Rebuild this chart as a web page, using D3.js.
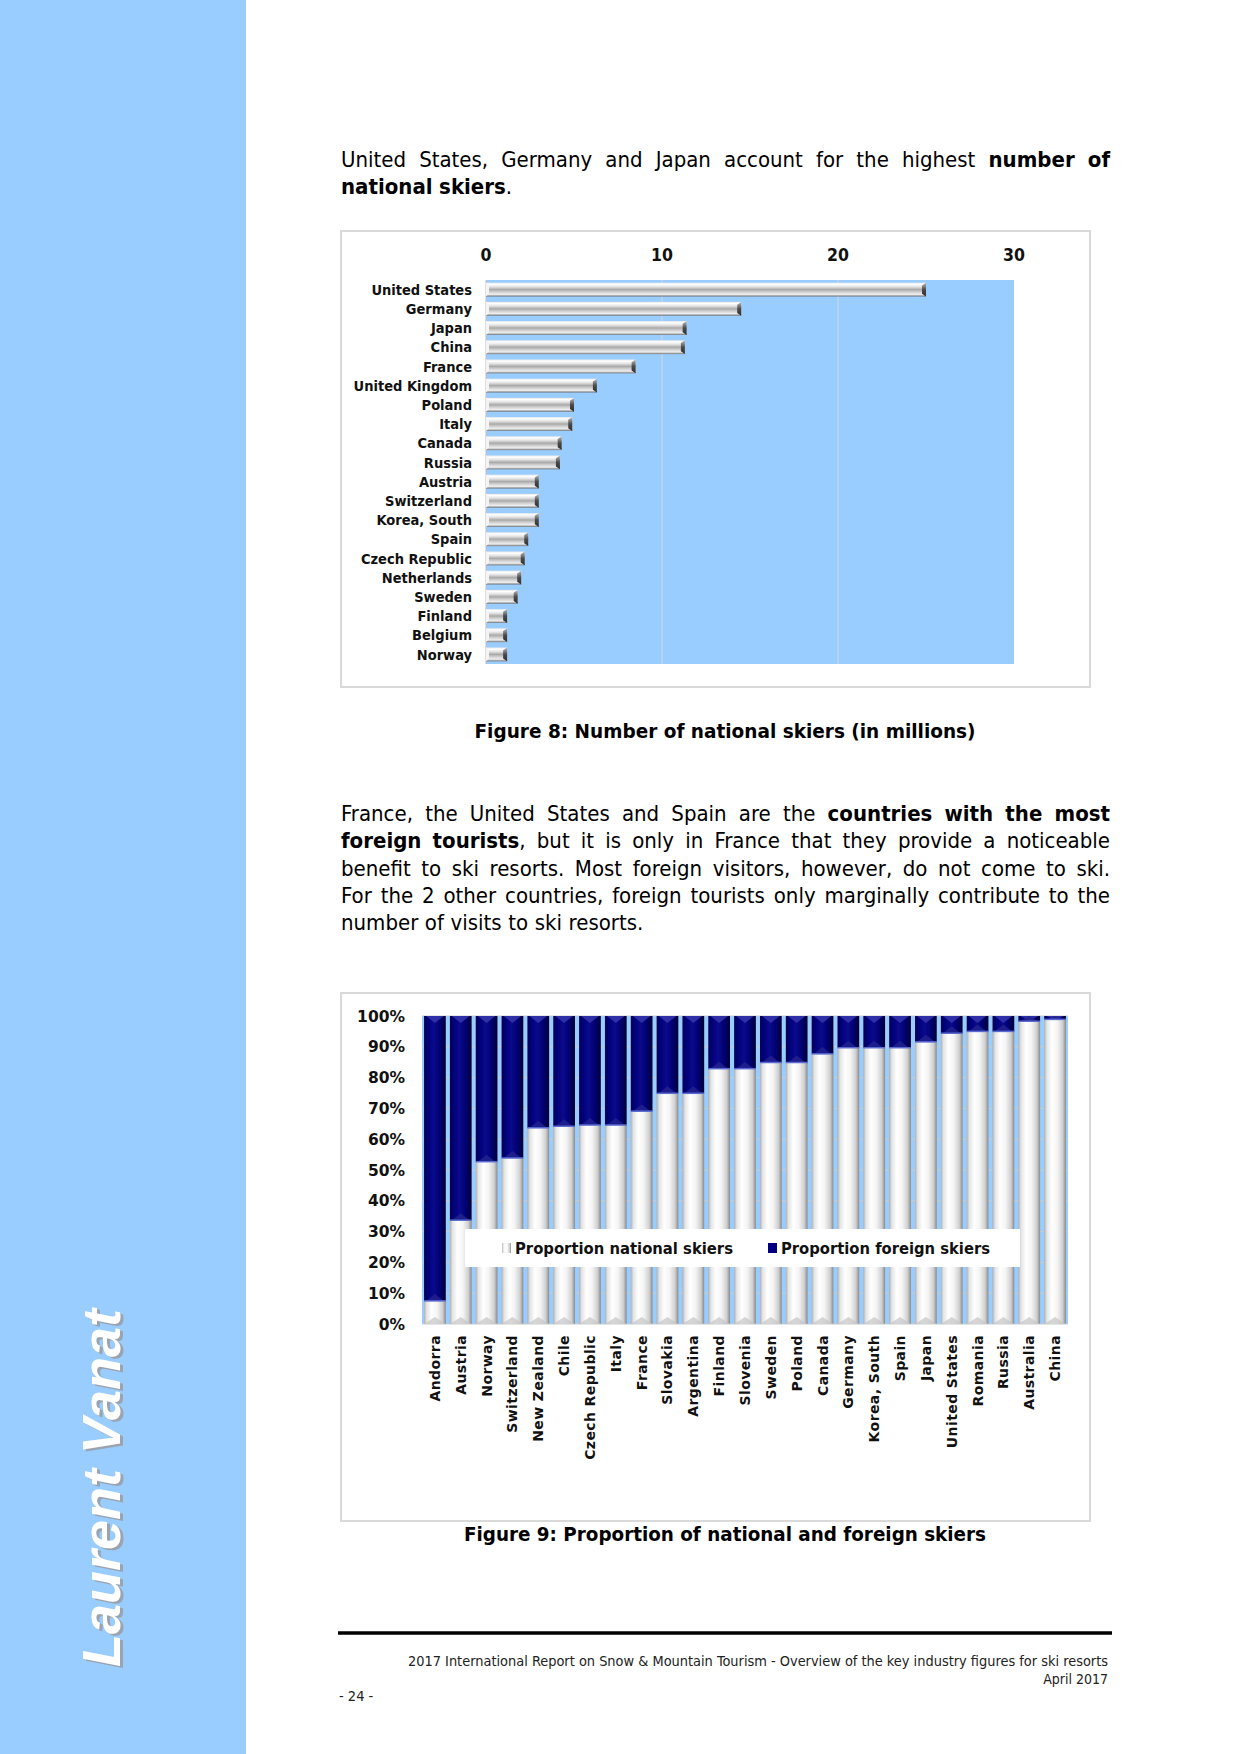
<!DOCTYPE html>
<html><head><meta charset="utf-8">
<script src="https://cdn.jsdelivr.net/npm/d3@7"></script>
<style>html,body{margin:0;padding:0;background:#fff}svg{display:block}</style>
</head><body>
<svg id="page" width="1240" height="1754"></svg>
<script>
// ---------- DATA ----------
const skierCountries = ["United States","Germany","Japan","China","France","United Kingdom","Poland","Italy","Canada","Russia","Austria","Switzerland","Korea, South","Spain","Czech Republic","Netherlands","Sweden","Finland","Belgium","Norway"];
const skierMillions = [25.0,14.5,11.4,11.3,8.5,6.3,5.0,4.9,4.3,4.2,3.0,3.0,3.0,2.4,2.2,2.0,1.8,1.2,1.2,1.2];
const skierTicks = [0,10,20,30];

const shareCountries = ["Andorra","Austria","Norway","Switzerland","New Zealand","Chile","Czech Republic","Italy","France","Slovakia","Argentina","Finland","Slovenia","Sweden","Poland","Canada","Germany","Korea, South","Spain","Japan","United States","Romania","Russia","Australia","China"];
const nationalShare = [7.5,33.7,52.7,53.9,63.7,64.2,64.6,64.6,69.1,74.9,74.9,82.9,82.9,84.9,84.9,87.7,89.7,89.7,89.7,91.6,94.4,95.0,95.0,98.3,98.9];
const foreignShare  = [92.5,66.3,47.3,46.1,36.3,35.8,35.4,35.4,30.9,25.1,25.1,17.1,17.1,15.1,15.1,12.3,10.3,10.3,10.3,8.4,5.6,5.0,5.0,1.7,1.1];
const shareTicks = [0,10,20,30,40,50,60,70,80,90,100];
const legendLabels = ["Proportion national skiers","Proportion foreign skiers"];

const para1 = [
  [["United States, Germany and Japan account for the highest ",0],["number of",1]],
  [["national skiers",1],[".",0]]
];
const para2 = [
  [["France, the United States and Spain are the ",0],["countries with the most",1]],
  [["foreign tourists",1],[", but it is only in France that they provide a noticeable",0]],
  [["benefit to ski resorts. Most foreign visitors, however, do not come to ski.",0]],
  [["For the 2 other countries, foreign tourists only marginally contribute to the",0]],
  [["number of visits to ski resorts.",0]]
];
const caption1 = "Figure 8: Number of national skiers (in millions)";
const caption2 = "Figure 9: Proportion of national and foreign skiers";
const footer1 = "2017 International Report on Snow & Mountain Tourism - Overview of the key industry figures for ski resorts";
const footer2 = "April 2017";
const pageNum = "- 24 -";
const author = "Laurent Vanat";

// ---------- PAGE ----------
const svg = d3.select("#page");
const defs = svg.append("defs");
const FONT = "'DejaVu Sans Condensed','DejaVu Sans',sans-serif";

svg.append("rect").attr("width",1240).attr("height",1754).attr("fill","#fff");
svg.append("rect").attr("x",0).attr("y",0).attr("width",246).attr("height",1754).attr("fill","#99ccff");

// author, rotated
[[3,2,"#9aa4b0"],[0,0,"#ffffff"]].forEach(([dx,dy,c])=>{
  svg.append("text")
    .attr("transform",`translate(${120+dx},${1667+dy}) rotate(-90)`)
    .attr("font-family","'Liberation Sans',Arial,sans-serif")
    .attr("font-weight","bold").attr("font-style","italic")
    .attr("font-size",54).attr("fill",c).text(author);
});

// justified text helper
function drawLines(lines, x0, width, y0, lh, size){
  lines.forEach((line,li)=>{
    const y = y0 + li*lh;
    const words=[]; let cur=[];
    line.forEach(([t,b])=>{
      t.split(" ").forEach((part,i)=>{
        if(i>0){ if(cur.length) words.push(cur); cur=[]; }
        if(part.length) cur.push([part,b]);
      });
    });
    if(cur.length) words.push(cur);
    const els = words.map(w=>{
      const te = svg.append("text").attr("y",y).attr("font-family",FONT).attr("font-size",size).attr("fill","#000");
      w.forEach(([p,b])=>te.append("tspan").attr("font-weight",b?"bold":"normal").text(p));
      return te;
    });
    const widths = els.map(e=>e.node().getComputedTextLength());
    const total = d3.sum(widths);
    const last = li===lines.length-1;
    const gap = last ? size*0.3 : (width-total)/(words.length-1);
    let x=x0;
    els.forEach((e,i)=>{ e.attr("x",x); x+=widths[i]+gap; });
  });
}
drawLines(para1, 341, 769, 167, 26.5, 22);
drawLines(para2, 341, 769, 821, 27.3, 22);

// ---------- CHART 1 ----------
svg.append("rect").attr("x",341).attr("y",231).attr("width",749).attr("height",456)
  .attr("fill","#fff").attr("stroke","#d9d9d9").attr("stroke-width",2);

const x1 = d3.scaleLinear().domain([0,30]).range([486,1014]);
const y1 = d3.scaleBand().domain(skierCountries).range([280,664]).paddingInner(0.28).paddingOuter(0.14);

svg.append("rect").attr("x",x1(0)).attr("y",280).attr("width",x1(30)-x1(0)).attr("height",384).attr("fill","#99ccff");
svg.append("g").selectAll("line").data(skierTicks.slice(1,3)).join("line")
  .attr("x1",d=>x1(d)).attr("x2",d=>x1(d)).attr("y1",280).attr("y2",664)
  .attr("stroke","#d0d8e0").attr("stroke-width",1);
svg.append("line").attr("x1",x1(0)).attr("x2",x1(0)).attr("y1",280).attr("y2",664).attr("stroke","#bfbfbf");

const gH = defs.append("linearGradient").attr("id","silverH").attr("x1",0).attr("y1",0).attr("x2",0).attr("y2",1);
[[0,"#e8e8e8"],[0.12,"#ffffff"],[0.3,"#e2e2e2"],[0.5,"#a9a9a9"],[0.68,"#d2d2d2"],[0.85,"#efefef"],[1,"#6f6f6f"]]
  .forEach(([o,c])=>gH.append("stop").attr("offset",o).attr("stop-color",c));
const gCap = defs.append("linearGradient").attr("id","capH").attr("x1",0).attr("y1",0).attr("x2",0).attr("y2",1);
[[0,"#bdbdbd"],[0.5,"#4a4a4a"],[1,"#2e2e2e"]].forEach(([o,c])=>gCap.append("stop").attr("offset",o).attr("stop-color",c));

const bars1 = svg.append("g");
bars1.selectAll("rect.bar").data(skierCountries).join("rect").attr("class","bar")
  .attr("x",x1(0)).attr("y",d=>y1(d)).attr("height",y1.bandwidth())
  .attr("width",(d,i)=>x1(skierMillions[i])-x1(0)).attr("fill","url(#silverH)");
bars1.selectAll("path.cap").data(skierCountries).join("path").attr("class","cap")
  .attr("d",(d,i)=>{const xe=x1(skierMillions[i]), yt=y1(d), h=y1.bandwidth();
    return `M${xe-4},${yt+h*0.2} L${xe},${yt} L${xe},${yt+h} L${xe-4},${yt+h*0.8} Z`;})
  .attr("fill","url(#capH)");
bars1.selectAll("path.lcap").data(skierCountries).join("path").attr("class","lcap")
  .attr("d",(d,i)=>{const xs=x1(0), yt=y1(d), h=y1.bandwidth();
    return `M${xs},${yt} L${xs+3},${yt+h*0.2} L${xs+3},${yt+h*0.8} L${xs},${yt+h} Z`;})
  .attr("fill","#f4f4f4");

svg.append("g").selectAll("text").data(skierCountries).join("text")
  .attr("x",472).attr("y",d=>y1(d)+y1.bandwidth()/2).attr("dy","0.36em")
  .attr("text-anchor","end").attr("font-family",FONT).attr("font-weight","bold")
  .attr("font-size",14.5).attr("fill","#111").text(d=>d);
svg.append("g").selectAll("text").data(skierTicks).join("text")
  .attr("x",d=>x1(d)).attr("y",261).attr("text-anchor","middle")
  .attr("font-family",FONT).attr("font-weight","bold").attr("font-size",17.5).attr("fill","#111").text(d=>d);

svg.append("text").attr("x",725).attr("y",738).attr("text-anchor","middle")
  .attr("font-family",FONT).attr("font-weight","bold").attr("font-size",19.5)
  .attr("textLength",501).attr("lengthAdjust","spacingAndGlyphs").text(caption1);

// ---------- CHART 2 ----------
svg.append("rect").attr("x",341).attr("y",993).attr("width",749).attr("height",528)
  .attr("fill","#fff").attr("stroke","#d9d9d9").attr("stroke-width",2);

const x2 = d3.scaleBand().domain(shareCountries).range([422,1068]).paddingInner(0.16).paddingOuter(0.08);
const y2 = d3.scaleLinear().domain([0,100]).range([1324,1016]);

svg.append("rect").attr("x",422).attr("y",y2(100)).attr("width",646).attr("height",y2(0)-y2(100)).attr("fill","#99ccff");
svg.append("g").selectAll("line").data(shareTicks).join("line")
  .attr("x1",422).attr("x2",1068).attr("y1",d=>y2(d)).attr("y2",d=>y2(d))
  .attr("stroke","#c8ccd0").attr("stroke-width",1);

const gN = defs.append("linearGradient").attr("id","silverV").attr("x1",0).attr("y1",0).attr("x2",1).attr("y2",0);
[[0,"#b0b0b0"],[0.12,"#e4e4e4"],[0.35,"#ffffff"],[0.6,"#f4f4f4"],[0.85,"#cfcfcf"],[1,"#8a8a8a"]]
  .forEach(([o,c])=>gN.append("stop").attr("offset",o).attr("stop-color",c));
const gF = defs.append("linearGradient").attr("id","navyV").attr("x1",0).attr("y1",0).attr("x2",1).attr("y2",0);
[[0,"#00004a"],[0.15,"#000078"],[0.45,"#0a0a8c"],[0.75,"#000070"],[1,"#000030"]]
  .forEach(([o,c])=>gF.append("stop").attr("offset",o).attr("stop-color",c));

const bw = x2.bandwidth();
const b2 = svg.append("g");
b2.selectAll("rect.nat").data(shareCountries).join("rect").attr("class","nat")
  .attr("x",d=>x2(d)).attr("width",bw)
  .attr("y",(d,i)=>y2(nationalShare[i])).attr("height",(d,i)=>y2(0)-y2(nationalShare[i]))
  .attr("fill","url(#silverV)");
b2.selectAll("path.natb").data(shareCountries).join("path").attr("class","natb")
  .attr("d",d=>{const x=x2(d), yb=y2(0); return `M${x},${yb} L${x+bw/2},${yb-7} L${x+bw},${yb} Z`;})
  .attr("fill","#c4c4c4").attr("opacity",0.7);
b2.selectAll("rect.for").data(shareCountries).join("rect").attr("class","for")
  .attr("x",d=>x2(d)).attr("width",bw)
  .attr("y",(d,i)=>y2(nationalShare[i]+foreignShare[i])).attr("height",(d,i)=>y2(nationalShare[i])-y2(nationalShare[i]+foreignShare[i]))
  .attr("fill","url(#navyV)");
b2.selectAll("path.fort").data(shareCountries).join("path").attr("class","fort")
  .attr("d",(d,i)=>{const x=x2(d), yt=y2(100), h=Math.min(7,y2(nationalShare[i])-yt);
    return `M${x+2},${yt} L${x+bw/2},${yt+h} L${x+bw-2},${yt} Z`;})
  .attr("fill","#3a3ab0").attr("opacity",0.8);
b2.selectAll("path.forb").data(shareCountries).join("path").attr("class","forb")
  .attr("d",(d,i)=>{const x=x2(d), yb=y2(nationalShare[i]), h=Math.min(7,yb-y2(100));
    return `M${x+2},${yb} L${x+bw/2},${yb-h} L${x+bw-2},${yb} Z`;})
  .attr("fill","#23238f").attr("opacity",0.8);
b2.selectAll("line.sep").data(shareCountries).join("line").attr("class","sep")
  .attr("x1",d=>x2(d)).attr("x2",d=>x2(d)+bw)
  .attr("y1",(d,i)=>y2(nationalShare[i])).attr("y2",(d,i)=>y2(nationalShare[i]))
  .attr("stroke","#5a6ad0").attr("stroke-width",1.5);

svg.append("g").selectAll("text").data(shareTicks).join("text")
  .attr("x",405).attr("y",d=>y2(d)).attr("dy","0.36em").attr("text-anchor","end")
  .attr("font-family","'DejaVu Sans',sans-serif").attr("font-weight","bold").attr("font-size",15.5)
  .attr("fill","#111").text(d=>d+"%");

svg.append("g").selectAll("text").data(shareCountries).join("text")
  .attr("transform",d=>`translate(${x2(d)+bw/2+5},1335) rotate(-90)`)
  .attr("text-anchor","end").attr("font-family","'DejaVu Sans',sans-serif").attr("font-weight","bold")
  .attr("font-size",14).attr("letter-spacing",0.4).attr("fill","#111").text(d=>d);

// legend
const lg = svg.append("g");
lg.append("rect").attr("x",465).attr("y",1229).attr("width",555).attr("height",38).attr("fill","#fff");
const legX = [502,768], legW=[218,209];
lg.selectAll("rect.m").data(legendLabels).join("rect").attr("class","m")
  .attr("x",(d,i)=>legX[i]).attr("y",1243).attr("width",9).attr("height",10)
  .attr("fill",(d,i)=>i?"#000080":"url(#silverV)");
lg.selectAll("text").data(legendLabels).join("text")
  .attr("x",(d,i)=>legX[i]+13).attr("y",1254)
  .attr("font-family",FONT).attr("font-weight","bold").attr("font-size",16.5)
  .attr("textLength",(d,i)=>legW[i]).attr("lengthAdjust","spacingAndGlyphs").attr("fill","#111").text(d=>d);

svg.append("text").attr("x",725).attr("y",1541).attr("text-anchor","middle")
  .attr("font-family",FONT).attr("font-weight","bold").attr("font-size",20)
  .attr("textLength",522).attr("lengthAdjust","spacingAndGlyphs").text(caption2);

// ---------- FOOTER ----------
svg.append("line").attr("x1",338).attr("x2",1112).attr("y1",1633).attr("y2",1633).attr("stroke","#000").attr("stroke-width",3.5);
svg.append("text").attr("x",1108).attr("y",1666).attr("text-anchor","end")
  .attr("font-family",FONT).attr("font-size",14).attr("fill","#222")
  .attr("textLength",700).attr("lengthAdjust","spacingAndGlyphs").text(footer1);
svg.append("text").attr("x",1108).attr("y",1684).attr("text-anchor","end")
  .attr("font-family",FONT).attr("font-size",14).attr("fill","#222").text(footer2);
svg.append("text").attr("x",339).attr("y",1701)
  .attr("font-family",FONT).attr("font-size",14.5).attr("fill","#222").text(pageNum);
</script>
</body></html>
